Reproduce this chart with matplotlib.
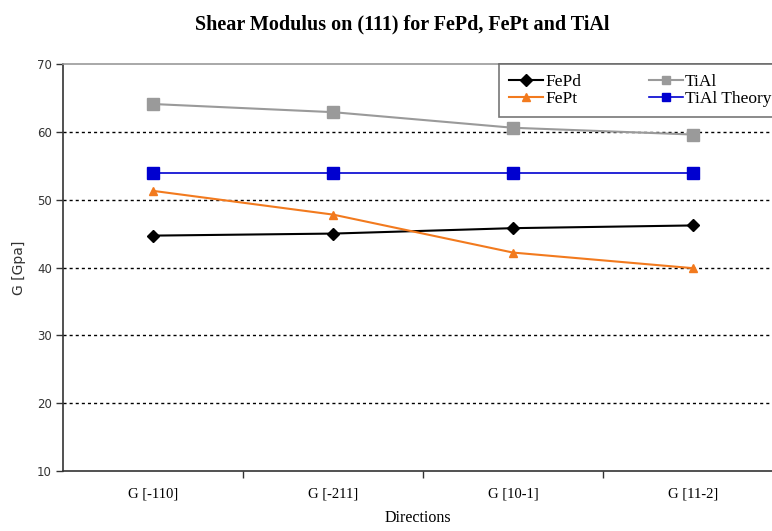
import matplotlib
matplotlib.use("Agg")
import matplotlib.pyplot as plt
import numpy as np

directions = ["G [-110]", "G [-211]", "G [10-1]", "G [11-2]"]
fepd = [44.7, 45.0, 45.8, 46.2]
tial = [64.1, 62.9, 60.6, 59.6]
fept = [51.3, 47.8, 42.2, 39.9]
tial_theory = [54.0, 54.0, 54.0, 54.0]
y_ticks = [10, 20, 30, 40, 50, 60, 70]

serif = "Liberation Serif"
sans = "DejaVu Sans"

fig = plt.figure(figsize=(7.72, 5.31), dpi=100)
ax = fig.add_axes([63 / 772, 1 - 471 / 531, 1 - 63 / 772, (471 - 64) / 531])

x = np.arange(len(directions))

# dotted horizontal grid
for v in y_ticks[1:-1]:
    ax.axhline(v, color="black", lw=1.0, ls=(0, (2.2, 2.2)), zorder=1)

ax.plot(x, fepd, color="black", lw=1.5, marker="D", ms=6, label="FePd", zorder=3)
ax.plot(x, tial, color="#9a9a9a", lw=1.5, marker="s", ms=8, label="TiAl", zorder=3)
ax.plot(x, fept, color="#f27a1e", lw=1.5, marker="^", ms=6, label="FePt", zorder=3)
ax.plot(x, tial_theory, color="#0000d0", lw=1.2, marker="s", ms=8, label="TiAl Theory", zorder=3)

ax.set_yticks(y_ticks)
ax.set_yticklabels([str(v) for v in y_ticks], fontfamily=sans, fontsize=8.5, color="#333333")

# category labels centred, tick marks between categories
ax.set_xticks(x)
ax.set_xticklabels(directions, fontfamily=serif, fontsize=10.5)
ax.tick_params(axis="x", which="major", length=0, pad=12)
ax.set_xticks(np.arange(0.5, len(directions) - 0.5 + 0.01, 1.0), minor=True)
ax.tick_params(axis="x", which="minor", length=5, width=1.0, direction="out", color="#333333")
ax.tick_params(axis="y", length=5, width=1.0, direction="out", color="#333333", pad=3)

# the plot area runs past the right edge of the figure
ax.set_ylim(10, 70)
ax.set_xlim(-0.5, -0.5 + (772 - 63) / 180)

for s in ["left", "bottom"]:
    ax.spines[s].set_color("#333333")
    ax.spines[s].set_linewidth(1.2)
ax.spines["top"].set_color("#999999")
ax.spines["top"].set_linewidth(1.2)
ax.spines["right"].set_visible(False)

ax.set_ylabel("G [Gpa]", fontfamily=sans, fontsize=10, color="#333333", labelpad=8)
ax.set_xlabel("Directions", fontfamily=serif, fontsize=11.5, labelpad=7)

fig.suptitle("Shear Modulus on (111) for FePd, FePt and TiAl", fontfamily=serif,
             fontweight="bold", fontsize=14.5, x=0.521, y=0.973)

handles, labels = ax.get_legend_handles_labels()
order = [0, 2, 1, 3]
leg = ax.legend([handles[i] for i in order], [labels[i] for i in order], ncol=2,
                loc="upper left", bbox_to_anchor=((499 - 63) / (772 - 63), 1.0),
                prop={"family": serif, "size": 12.5}, frameon=True, fancybox=False,
                borderpad=0.55, handlelength=2.0, handletextpad=0.1, columnspacing=3.9,
                labelspacing=0.08, borderaxespad=0)
leg.get_frame().set_edgecolor("#555555")
leg.get_frame().set_linewidth(1.2)
for h in leg.legend_handles:
    h.set_markersize(6)

fig.savefig("out.png", dpi=100)
